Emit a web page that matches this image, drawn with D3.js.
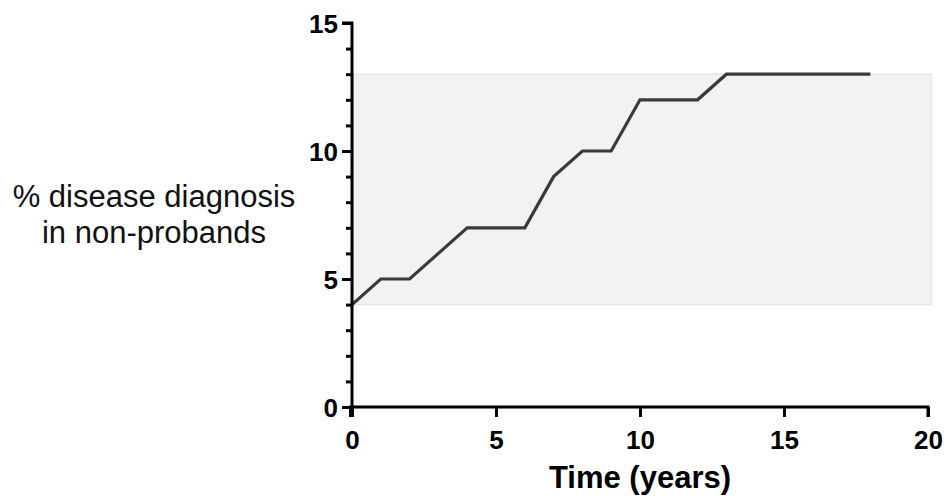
<!DOCTYPE html>
<html><head><meta charset="utf-8">
<script src="https://cdn.jsdelivr.net/npm/d3@7"></script>
<style>body{margin:0;background:#fff}svg{display:block}</style>
</head><body><svg id="c" width="947" height="502"></svg>
<script>
const years = [0,1,2,3,4,5,6,7,8,9,10,11,12,13,14,15,16,17,18];
const pctDiagnosed = [4,5,5,6,7,7,7,9,10,10,12,12,12,13,13,13,13,13,13];
const bandRange = [4,13];
const xTicks = [0,5,10,15,20];
const yTicks = [0,5,10,15];

const svg = d3.select("#c");
const x = d3.scaleLinear().domain([0,20]).range([352,928]);
const y = d3.scaleLinear().domain([0,15]).range([407,23]);
const font = "Liberation Sans, Arial, sans-serif";

// shaded band
svg.append("rect")
  .attr("x", x(0)+1).attr("y", y(bandRange[1]))
  .attr("width", x(20.12)-x(0)-1).attr("height", y(bandRange[0])-y(bandRange[1]))
  .attr("fill","#f2f2f2").attr("stroke","#e6e6e6").attr("stroke-width",1.5);

// line
svg.append("path")
  .datum(years.map((d,i)=>[d,pctDiagnosed[i]]))
  .attr("d", d3.line().x(d=>x(d[0])).y(d=>y(d[1])))
  .attr("fill","none").attr("stroke","#3a3a3a").attr("stroke-width",3.2)
  .attr("stroke-linejoin","miter");

// y axis
const yAxis = d3.axisLeft(y).tickValues(d3.range(0,16,1)).tickSize(10).tickFormat(d=> yTicks.includes(d)? d : "");
const gy = svg.append("g").attr("transform",`translate(${x(0)},0)`).call(yAxis);
gy.attr("font-size",null).attr("font-family",null);
gy.select(".domain").attr("stroke","#000").attr("stroke-width",3).attr("d",`M-10,${y(15)}H0V${y(0)+1.5}`);
gy.selectAll(".tick line").attr("stroke","#000").attr("stroke-width",3)
  .attr("x2", d=> yTicks.includes(d)? -10 : -6);
gy.selectAll(".tick text").attr("x",-14).attr("dy","0.36em")
  .style("font-family",font).style("font-size","26px").style("font-weight","bold").attr("fill","#000");

// x axis
const xAxis = d3.axisBottom(x).tickValues(xTicks).tickSize(10);
const gx = svg.append("g").attr("transform",`translate(0,${y(0)})`).call(xAxis);
gx.attr("font-size",null).attr("font-family",null);
gx.select(".domain").attr("stroke","#000").attr("stroke-width",3).attr("d",`M${x(0)-1.5},10V0H${x(20)}V10`);
gx.selectAll(".tick line").attr("stroke","#000").attr("stroke-width",3);
gx.selectAll(".tick text").attr("y",42).attr("dy",null)
  .style("font-family",font).style("font-size","26px").style("font-weight","bold").attr("fill","#000");

// axis titles
svg.append("text").attr("x",640).attr("y",488).attr("text-anchor","middle")
  .style("font-family",font).style("font-size","31px").style("font-weight","bold").text("Time (years)");
const yt = svg.append("text").attr("text-anchor","middle").style("font-family",font).style("font-size","31px").attr("fill","#111");
yt.append("tspan").attr("x",154).attr("y",207).text("% disease diagnosis");
yt.append("tspan").attr("x",154).attr("y",243).text("in non-probands");
</script></body></html>
